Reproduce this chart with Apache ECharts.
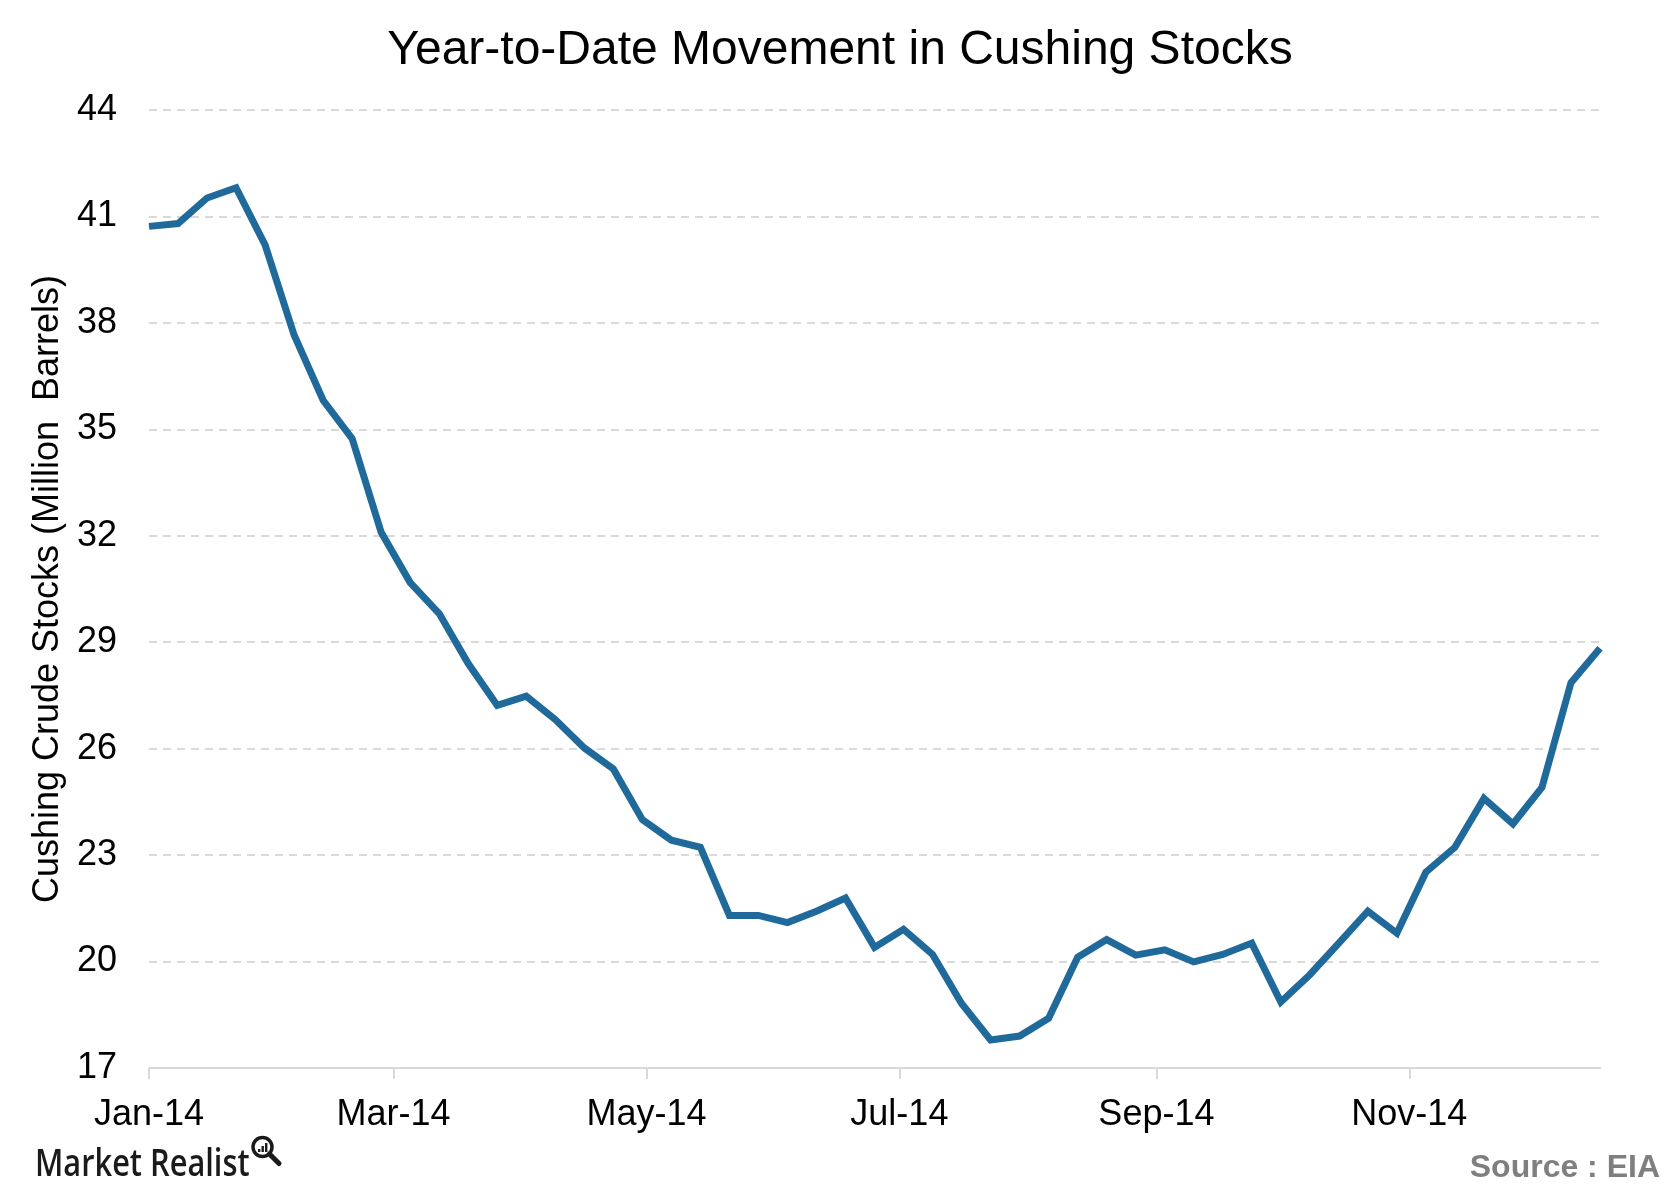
<!DOCTYPE html>
<html>
<head>
<meta charset="utf-8">
<script src="https://cdn.jsdelivr.net/npm/echarts@6/dist/echarts.min.js"></script>
<style>
html,body{margin:0;padding:0;background:#fff;}
#chart{width:1680px;height:1200px;}
</style>
</head>
<body>
<div id="chart"></div>
<script>
const weekDates = [
  '2014-01-03','2014-01-10','2014-01-17','2014-01-24','2014-01-31',
  '2014-02-07','2014-02-14','2014-02-21','2014-02-28',
  '2014-03-07','2014-03-14','2014-03-21','2014-03-28',
  '2014-04-04','2014-04-11','2014-04-18','2014-04-25',
  '2014-05-02','2014-05-09','2014-05-16','2014-05-23','2014-05-30',
  '2014-06-06','2014-06-13','2014-06-20','2014-06-27',
  '2014-07-04','2014-07-11','2014-07-18','2014-07-25',
  '2014-08-01','2014-08-08','2014-08-15','2014-08-22','2014-08-29',
  '2014-09-05','2014-09-12','2014-09-19','2014-09-26',
  '2014-10-03','2014-10-10','2014-10-17','2014-10-24','2014-10-31',
  '2014-11-07','2014-11-14','2014-11-21','2014-11-28',
  '2014-12-05','2014-12-12','2014-12-19'
];
const cushingStocks = [
  40.72, 40.80, 41.52, 41.81, 40.20,
  37.66, 35.82, 34.74, 32.10,
  30.68, 29.81, 28.40, 27.22,
  27.48, 26.82, 26.02, 25.43,
  24.00, 23.42, 23.22, 21.30, 21.30,
  21.10, 21.42, 21.79, 20.40,
  20.91, 20.20, 18.82, 17.79,
  17.90, 18.40, 20.12, 20.62, 20.18,
  20.33, 19.99, 20.20, 20.52,
  18.86, 19.63, 20.52, 21.42, 20.80,
  22.52, 23.22, 24.60, 23.88,
  24.91, 27.86, 28.83
];
const tickDates = ['2014-01-03','2014-03-03','2014-05-03','2014-07-03','2014-09-03','2014-11-03'];
const tickLabels = ['Jan-14','Mar-14','May-14','Jul-14','Sep-14','Nov-14'];
const yTicks = [17, 20, 23, 26, 29, 32, 35, 38, 41, 44];

// days since the first week (x position on a linear date scale)
function ts(s){ const p = s.split('-'); return Date.UTC(+p[0], +p[1]-1, +p[2]); }
const t0 = ts(weekDates[0]);
function dayOf(s){ return Math.round((ts(s) - t0) / 86400000); }
const tickDays = tickDates.map(dayOf);
const FONT = '"Liberation Sans", Arial, sans-serif';

const chart = echarts.init(document.getElementById('chart'), null, {renderer:'canvas'});
chart.setOption({
  backgroundColor: '#ffffff',
  animation: false,
  title: {
    text: 'Year-to-Date Movement in Cushing Stocks',
    left: 'center',
    top: 27,
    padding: 0,
    textStyle: {fontFamily: FONT, fontSize: 48, fontWeight: 'normal', color: '#000'}
  },
  grid: {left: 149, right: 80, top: 110, bottom: 132},
  xAxis: {
    type: 'value',
    min: 0,
    max: dayOf(weekDates[weekDates.length-1]),
    axisLine: {show: true, lineStyle: {color: '#d9d9d9', width: 2}},
    axisTick: {show: true, customValues: tickDays, length: 11, lineStyle: {color: '#d9d9d9', width: 2}},
    axisLabel: {
      customValues: tickDays,
      margin: 29,
      fontFamily: FONT, fontSize: 36, color: '#000',
      formatter: function(v){
        const i = tickDays.indexOf(Math.round(v));
        return i >= 0 ? tickLabels[i] : '';
      }
    },
    splitLine: {show: false}
  },
  yAxis: {
    type: 'value',
    min: yTicks[0],
    max: yTicks[yTicks.length-1],
    interval: 3,
    name: 'Cushing Crude Stocks (Million  Barrels)',
    nameLocation: 'middle',
    nameGap: 83,
    nameTextStyle: {fontFamily: FONT, fontSize: 36, color: '#000'},
    axisLine: {show: false},
    axisTick: {show: false},
    axisLabel: {margin: 32, fontFamily: FONT, fontSize: 36, color: '#000'},
    splitLine: {show: true, lineStyle: {color: '#d9d9d9', width: 2, type: [8, 6]}}
  },
  series: [{
    type: 'line',
    data: weekDates.map((d, i) => [dayOf(d), cushingStocks[i]]),
    showSymbol: false,
    symbol: 'none',
    lineStyle: {color: '#1f6a9b', width: 7, join: 'miter'},
    clip: false
  }],
  graphic: [
    {
      type: 'text', x: 35, y: 1165, scaleX: 0.81,
      style: {text: 'Market Realist', fontFamily: '"Open Sans", sans-serif', fontWeight: 600,
              fontSize: 38, fill: '#1a1a1a', align: 'left', verticalAlign: 'middle'}
    },
    {
      type: 'group', x: 0, y: 0,
      children: [
        {type: 'circle', shape: {cx: 262.5, cy: 1147, r: 9.5}, style: {fill: 'none', stroke: '#1a1a1a', lineWidth: 3.5}},
        {type: 'line', shape: {x1: 269.5, y1: 1154, x2: 279, y2: 1163.5}, style: {stroke: '#1a1a1a', lineWidth: 5, lineCap: 'round'}},
        {type: 'rect', shape: {x: 258, y: 1149, width: 2.4, height: 3}, style: {fill: '#1a1a1a'}},
        {type: 'rect', shape: {x: 261.5, y: 1146, width: 2.4, height: 6}, style: {fill: '#1a1a1a'}},
        {type: 'rect', shape: {x: 265, y: 1143, width: 2.4, height: 9}, style: {fill: '#1a1a1a'}}
      ]
    },
    {
      type: 'text', x: 1660, y: 1168,
      style: {text: 'Source : EIA', fontFamily: FONT, fontWeight: 'bold', fontSize: 32,
              fill: '#7f7f7f', align: 'right', verticalAlign: 'middle'}
    }
  ]
});
</script>
</body>
</html>
